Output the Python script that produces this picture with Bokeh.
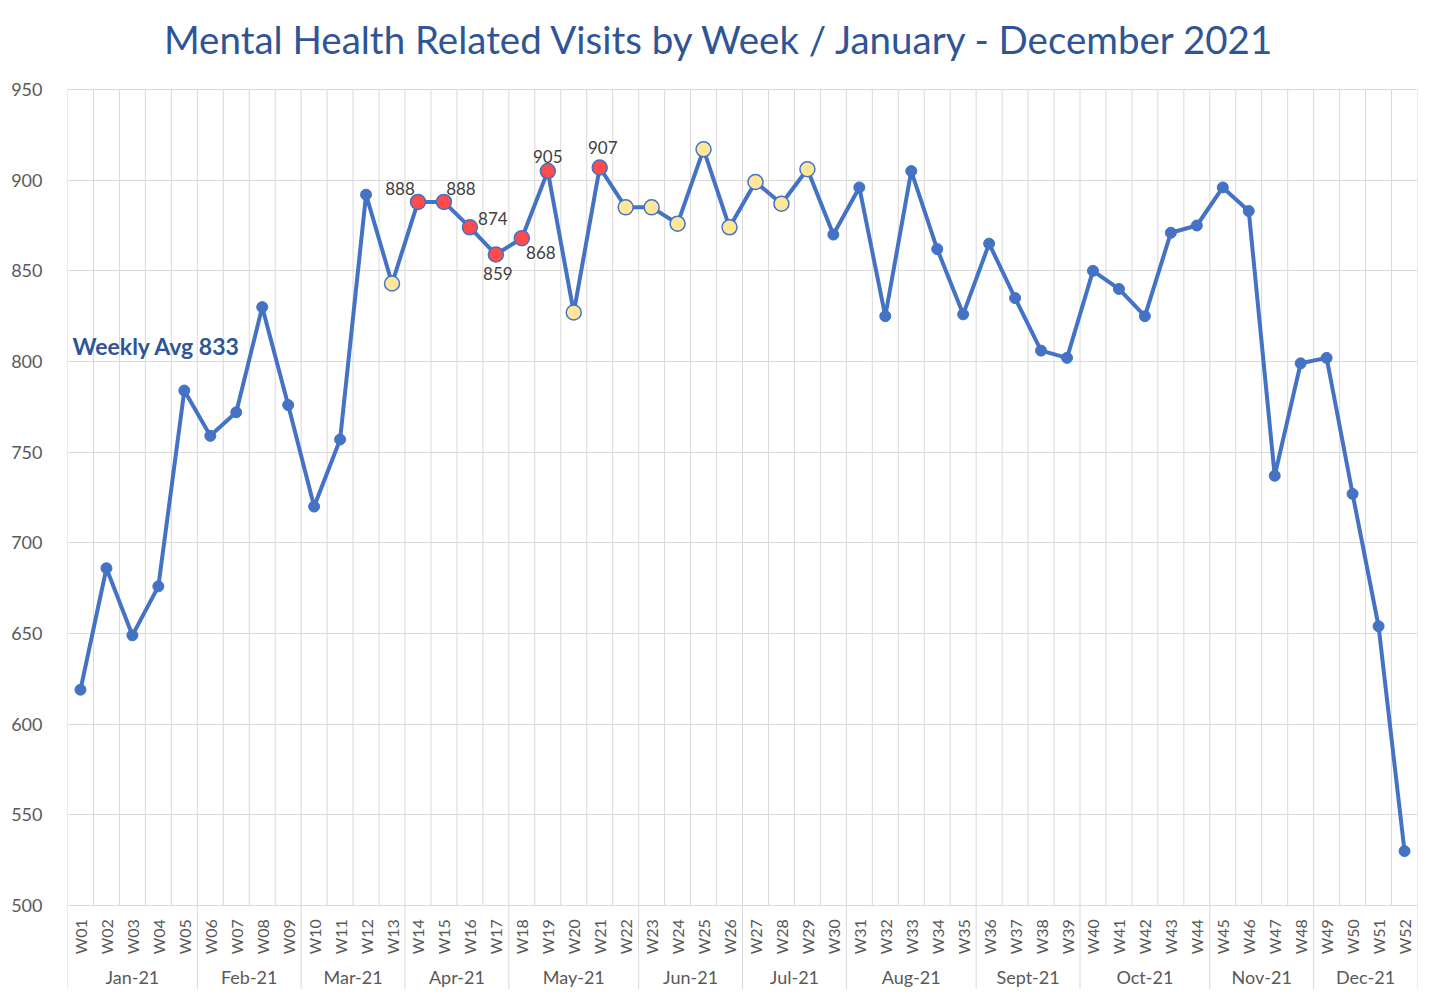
import math
from bokeh.plotting import figure
from bokeh.models import ColumnDataSource, Range1d, FixedTicker, Label
from bokeh.core.properties import value
from bokeh.embed import file_html
from bokeh.resources import INLINE

# ---- data ----
weeks = [f"W{i:02d}" for i in range(1, 53)]
visits = [619, 686, 649, 676, 784, 759, 772, 830, 776, 720,
          757, 892, 843, 888, 888, 874, 859, 868, 905, 827,
          907, 885, 885, 876, 917, 874, 899, 887, 906, 870,
          896, 825, 905, 862, 826, 865, 835, 806, 802, 850,
          840, 825, 871, 875, 896, 883, 737, 799, 802, 727,
          654, 530]
months = ["Jan-21", "Feb-21", "Mar-21", "Apr-21", "May-21", "Jun-21",
          "Jul-21", "Aug-21", "Sept-21", "Oct-21", "Nov-21", "Dec-21"]
weeks_per_month = [5, 4, 4, 4, 5, 4, 4, 5, 4, 5, 4, 4]
red_weeks = ["W14", "W15", "W16", "W17", "W18", "W19", "W21"]
yellow_weeks = ["W13", "W20", "W22", "W23", "W24", "W25", "W26", "W27", "W28", "W29"]
y_ticks = [500, 550, 600, 650, 700, 750, 800, 850, 900, 950]
avg_text = "Weekly Avg 833"
title_text = "Mental Health Related Visits by Week / January - December 2021"

# label offsets (screen px) for the labelled red points
label_offsets = {"W14": (-18, 13), "W15": (17, 13), "W16": (23, 9),
                 "W17": (2, -19), "W18": (19, -14), "W19": (0, 15), "W21": (3, 20)}

LINE = "#4472C4"
GRID = "#D9D9D9"
TXT = "#595959"
TITLE = "#2F5597"
FONT = "Lato"

xs = list(range(1, 53))
# frame covers the whole canvas height; value area is 500..950
y_lo, y_hi = 453.68, 999.08

p = figure(width=1426, height=989, output_backend="svg", toolbar_location=None,
           x_range=Range1d(0.5, 52.5), y_range=Range1d(y_lo, y_hi),
           x_axis_location=None, min_border_left=67, min_border_right=9,
           min_border_top=0, min_border_bottom=0)
p.outline_line_color = None
p.background_fill_color = "white"
p.border_fill_color = "white"

# y axis
p.yaxis.ticker = FixedTicker(ticks=y_ticks)
p.yaxis.axis_line_color = None
p.yaxis.major_tick_line_color = None
p.yaxis.minor_tick_line_color = None
p.yaxis.major_label_text_font = FONT
p.yaxis.major_label_text_font_size = "18px"
p.yaxis.major_label_text_color = TXT
p.yaxis.major_label_standoff = 19

p.xgrid.visible = False
p.ygrid.ticker = FixedTicker(ticks=y_ticks)
p.ygrid.grid_line_color = GRID
p.ygrid.grid_line_width = 1

# vertical grid between weeks (inside value area)
vx = [i + 0.5 for i in range(0, 53)]
p.segment(x0=vx, y0=[y_ticks[0]] * len(vx), x1=vx, y1=[y_ticks[-1]] * len(vx),
          line_color=GRID, line_width=1)

# month separators extending into label area
bounds = [0]
for n in weeks_per_month:
    bounds.append(bounds[-1] + n)
sx = [b + 0.5 for b in bounds]
p.segment(x0=sx, y0=[y_lo] * len(sx), x1=sx, y1=[y_ticks[0]] * len(sx),
          line_color=GRID, line_width=1)

# week labels (rotated)
p.text(x=xs, y=[492.5] * 52, text=weeks, angle=math.pi / 2,
       text_align="right", text_baseline="middle",
       text_font=value(FONT), text_font_size="16px", text_color=TXT)

# month labels
mx = [(bounds[i] + bounds[i + 1]) / 2 + 0.5 for i in range(len(months))]
p.text(x=mx, y=[460.5] * len(months), text=months,
       text_align="center", text_baseline="middle",
       text_font=value(FONT), text_font_size="18px", text_color=TXT)

# line
p.line(x=xs, y=visits, line_color=LINE, line_width=4, line_join="round")

blue_idx = [i for i, w in enumerate(weeks) if w not in red_weeks and w not in yellow_weeks]
red_idx = [i for i, w in enumerate(weeks) if w in red_weeks]
yel_idx = [i for i, w in enumerate(weeks) if w in yellow_weeks]

p.scatter(x=[xs[i] for i in blue_idx], y=[visits[i] for i in blue_idx], size=11,
          fill_color=LINE, line_color=LINE)
p.scatter(x=[xs[i] for i in yel_idx], y=[visits[i] for i in yel_idx], size=15,
          fill_color="#FFE699", line_color=LINE, line_width=1.5)
p.scatter(x=[xs[i] for i in red_idx], y=[visits[i] for i in red_idx], size=15,
          fill_color="#FF4B4B", line_color=LINE, line_width=1.5)

# data labels
lab = dict(x=[], y=[], t=[], dx=[], dy=[])
for i in red_idx:
    w = weeks[i]
    lab["x"].append(xs[i])
    lab["y"].append(visits[i])
    lab["t"].append(str(visits[i]))
    lab["dx"].append(label_offsets[w][0])
    lab["dy"].append(-label_offsets[w][1])
lsrc = ColumnDataSource(lab)
p.text(x="x", y="y", text="t", x_offset="dx", y_offset="dy", source=lsrc,
       text_align="center", text_baseline="middle",
       text_font=value(FONT), text_font_size="17px", text_color="#404040")

p.add_layout(Label(x=5, x_units="screen", y=808.3, text=avg_text,
                   text_font=FONT, text_font_size="23px", text_font_style="bold",
                   text_color=TITLE, text_baseline="alphabetic", text_align="left"))

# chart title, drawn in the frame above the value area
p.text(x=[25.67], y=[978.0], text=[title_text],
       text_align="center", text_baseline="alphabetic",
       text_font=value(FONT), text_font_size="38.5px", text_color=TITLE)

open("out.html", "w").write(file_html(p, INLINE))
